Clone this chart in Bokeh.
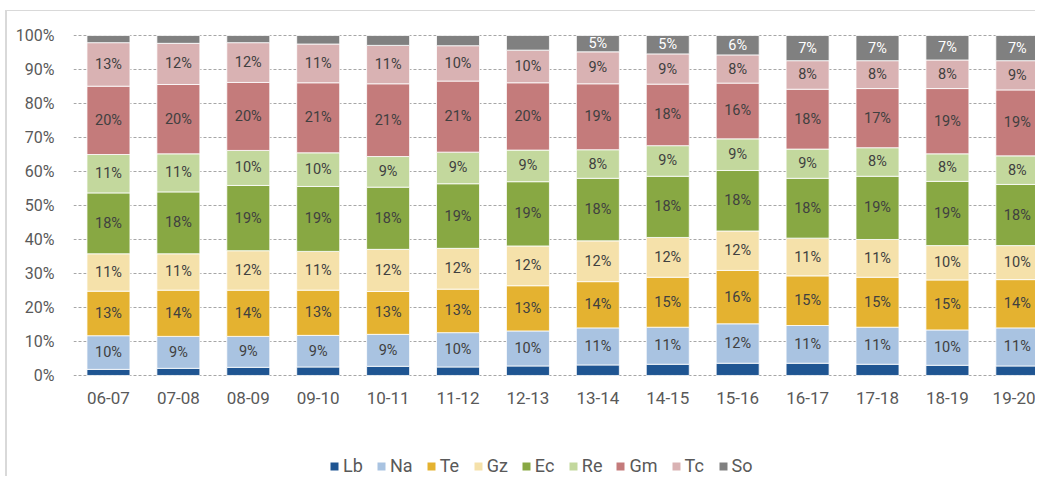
import numpy as np
from bokeh.plotting import figure
from bokeh.layouts import column
from bokeh.models import Range1d, FixedTicker, Legend, ColumnDataSource
from bokeh.core.properties import value
from bokeh.embed import file_html
from bokeh.resources import INLINE

categories = ["06-07", "07-08", "08-09", "09-10", "10-11", "11-12", "12-13",
              "13-14", "14-15", "15-16", "16-17", "17-18", "18-19", "19-20"]
series = ["Lb", "Na", "Te", "Gz", "Ec", "Re", "Gm", "Tc", "So"]

Lb = [1.8, 2.1, 2.4, 2.5, 2.7, 2.5, 2.8, 3.1, 3.3, 3.6, 3.6, 3.3, 3.0, 2.8]
Na = [9.9, 9.4, 9.1, 9.3, 9.4, 10.1, 10.3, 10.9, 10.9, 11.6, 11.1, 10.9, 10.4, 11.2]
Te = [13.1, 13.6, 13.6, 13.3, 12.6, 12.8, 13.3, 13.6, 14.7, 15.7, 14.6, 14.7, 14.7, 14.2]
Gz = [11.0, 10.7, 11.6, 11.4, 12.4, 12.0, 11.7, 12.0, 11.7, 11.6, 11.1, 11.1, 10.1, 10.0]
Ec = [17.9, 18.2, 19.2, 19.1, 18.3, 19.0, 18.9, 18.4, 18.0, 17.8, 17.6, 18.6, 18.9, 18.0]
Re = [11.3, 11.2, 10.3, 9.9, 9.0, 9.3, 9.3, 8.4, 9.0, 9.3, 8.6, 8.4, 8.1, 8.4]
Gm = [20.1, 20.4, 20.0, 20.6, 21.4, 20.9, 19.8, 19.4, 18.1, 16.4, 17.6, 17.4, 19.2, 19.4]
Tc = [12.8, 12.1, 11.7, 11.4, 11.3, 10.4, 9.6, 9.4, 8.9, 8.3, 8.4, 8.2, 8.4, 8.6]
So = [2.1, 2.3, 2.1, 2.5, 2.9, 3.0, 4.3, 4.8, 5.4, 5.7, 7.4, 7.4, 7.2, 7.4]

colors = ["#1f5592", "#a9c3e1", "#e4b230", "#f5e1aa", "#88a843",
          "#c3d89d", "#c47b7b", "#d9b2b3", "#808080"]
y_ticks = [0, 10, 20, 30, 40, 50, 60, 70, 80, 90, 100]
y_tick_labels = ["0%", "10%", "20%", "30%", "40%", "50%", "60%", "70%", "80%", "90%", "100%"]

values = dict(zip(series, [Lb, Na, Te, Gz, Ec, Re, Gm, Tc, So]))
x = list(range(len(categories)))
data = {"x": x}
data.update(values)
source = ColumnDataSource(data)

FONT = "Roboto"

p = figure(width=1035, height=456,
           x_range=Range1d(-0.5, 13.26), y_range=Range1d(-0.3, 100.3),
           output_backend="svg", toolbar_location=None,
           min_border_left=73, min_border_right=0,
           min_border_top=34, min_border_bottom=80)
p.outline_line_color = None
p.background_fill_color = "white"
p.border_fill_color = None

renderers = p.vbar_stack(series, x="x", width=0.615, source=source,
                         color=colors, line_color="white", line_width=0.8)

# data labels
cum = np.zeros(len(categories))
for s in series:
    v = np.array(values[s])
    mid = cum + v / 2
    cum = cum + v
    if s == "Lb":
        continue
    if s == "So":
        idx = [i for i in range(len(v)) if v[i] >= 4.5]
        col = "white"
    else:
        idx = list(range(len(v)))
        col = "#404040"
    p.text(x=[x[i] for i in idx], y=[mid[i] for i in idx],
           text=[f"{int(round(v[i]))}%" for i in idx],
           text_align="center", text_baseline="middle",
           text_font=value(FONT), text_font_size="14.5px", text_color=col)

p.xgrid.grid_line_color = None
p.ygrid.ticker = FixedTicker(ticks=y_ticks)
p.ygrid.grid_line_color = "#a6a6a6"
p.ygrid.grid_line_dash = "3 2"
p.ygrid.grid_line_width = 1

p.yaxis.ticker = FixedTicker(ticks=y_ticks)
p.yaxis.major_label_overrides = dict(zip(y_ticks, y_tick_labels))
p.xaxis.ticker = FixedTicker(ticks=x)
p.xaxis.major_label_overrides = dict(zip(x, categories))
for ax in (p.xaxis, p.yaxis):
    ax.axis_line_color = None
    ax.major_tick_line_color = None
    ax.minor_tick_line_color = None
    ax.major_label_text_font = FONT
    ax.major_label_text_color = "#595959"
p.yaxis.major_label_text_font_size = "16px"
p.xaxis.major_label_text_font_size = "17px"
p.yaxis.major_label_standoff = 13
p.xaxis.major_label_standoff = 9

# legend strip below the chart (proxy glyphs of zero height carry the colours);
# the column aligns its frame with the chart's frame
lf = figure(width=1035, height=20, x_range=Range1d(0, 1), y_range=Range1d(0, 1),
            output_backend="svg", toolbar_location=None,
            x_axis_type=None, y_axis_type=None,
            min_border_left=73, min_border_right=0,
            min_border_top=0, min_border_bottom=0)
lf.outline_line_color = None
lf.background_fill_color = None
lf.border_fill_color = None
lf.xgrid.visible = False
lf.ygrid.visible = False
leg_renderers = [lf.vbar(x=[0], top=[0], bottom=[0], width=0.0, fill_color=c, line_color=None)
                 for c in colors]

legend = Legend(items=[(s, [r]) for s, r in zip(series, leg_renderers)],
                orientation="horizontal", location=(256, 0))
legend.border_line_color = None
legend.background_fill_alpha = 0
legend.label_text_font = FONT
legend.label_text_font_size = "18px"
legend.label_text_color = "#595959"
legend.glyph_width = 10
legend.glyph_height = 10
legend.label_standoff = 4
legend.spacing = 13
legend.padding = 0
legend.margin = 0
lf.add_layout(legend, "center")

layout = column(p, lf, spacing=0)
layout.styles = {
    "background": ("linear-gradient(#d9d9d9, #d9d9d9) 5px 10px / 2px 100% no-repeat, "
                   "linear-gradient(#d9d9d9, #d9d9d9) 5px 10px / 100% 1px no-repeat, white"),
}

open("out.html", "w").write(file_html(layout, INLINE))
